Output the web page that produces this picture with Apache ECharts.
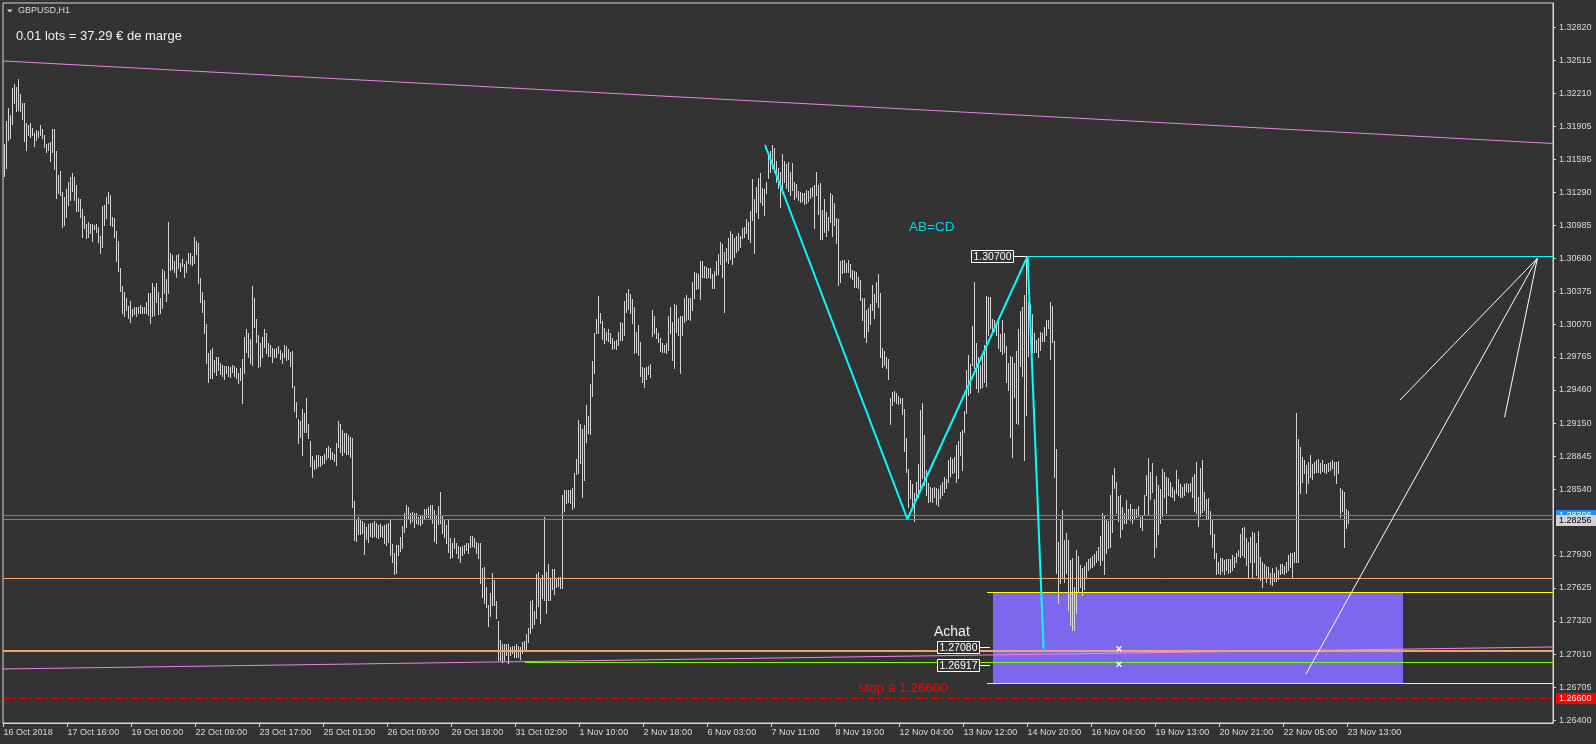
<!DOCTYPE html>
<html><head><meta charset="utf-8">
<script src="https://cdn.jsdelivr.net/npm/echarts@6/dist/echarts.min.js"></script>
<style>html,body{margin:0;padding:0;background:#333333;}#c{width:1596px;height:744px;}</style>
</head><body><div id="c"></div>
<script>
// ---- DATA ----
const barHigh=[1.3174,1.3195,1.3207,1.3201,1.3226,1.3229,1.3227,1.3234,1.3220,1.3212,
1.3212,1.3193,1.3191,1.3193,1.3189,1.3184,1.3187,1.3186,1.3191,1.3188,
1.3182,1.3174,1.3175,1.3176,1.3188,1.3188,1.3167,1.3145,1.3149,1.3129,
1.3125,1.3132,1.3139,1.3143,1.3147,1.3143,1.3136,1.3124,1.3123,1.3114,
1.3107,1.3100,1.3102,1.3100,1.3100,1.3099,1.3100,1.3097,1.3089,1.3116,
1.3117,1.3125,1.3129,1.3127,1.3106,1.3105,1.3093,1.3084,1.3059,1.3042,
1.3037,1.3031,1.3024,1.3028,1.3021,1.3023,1.3023,1.3023,1.3025,1.3023,
1.3023,1.3027,1.3036,1.3036,1.3045,1.3041,1.3045,1.3037,1.3031,1.3058,
1.3056,1.3049,1.3102,1.3073,1.3071,1.3065,1.3071,1.3072,1.3064,1.3067,
1.3063,1.3065,1.3073,1.3073,1.3070,1.3088,1.3084,1.3082,1.3050,1.3037,
1.3029,1.3007,1.2980,1.2983,1.2985,1.2974,1.2976,1.2976,1.2971,1.2969,
1.2968,1.2968,1.2968,1.2967,1.2969,1.2968,1.2966,1.2962,1.2966,1.2975,
1.2995,1.3002,1.2999,1.2993,1.3042,1.3031,1.3012,1.2997,1.2989,1.2995,
1.3002,1.2999,1.2989,1.2988,1.2985,1.2984,1.2985,1.2987,1.2983,1.2980,
1.2988,1.2987,1.2984,1.2981,1.2982,1.2950,1.2935,1.2919,1.2917,1.2928,
1.2925,1.2938,1.2914,1.2899,1.2885,1.2881,1.2886,1.2886,1.2885,1.2885,
1.2887,1.2892,1.2894,1.2892,1.2888,1.2887,1.2897,1.2917,1.2914,1.2909,
1.2906,1.2906,1.2904,1.2902,1.2901,1.2843,1.2825,1.2828,1.2825,1.2824,
1.2823,1.2819,1.2822,1.2823,1.2823,1.2824,1.2823,1.2821,1.2822,1.2820,
1.2821,1.2822,1.2823,1.2825,1.2803,1.2795,1.2802,1.2802,1.2810,1.2820,
1.2832,1.2839,1.2837,1.2832,1.2833,1.2832,1.2832,1.2828,1.2830,1.2829,
1.2836,1.2836,1.2837,1.2839,1.2839,1.2835,1.2829,1.2838,1.2851,1.2830,
1.2826,1.2821,1.2826,1.2809,1.2804,1.2809,1.2804,1.2801,1.2800,1.2801,
1.2802,1.2804,1.2804,1.2811,1.2811,1.2809,1.2805,1.2804,1.2804,1.2781,
1.2782,1.2763,1.2747,1.2758,1.2776,1.2770,1.2750,1.2732,1.2714,1.2710,
1.2710,1.2710,1.2710,1.2708,1.2709,1.2709,1.2710,1.2709,1.2708,1.2712,
1.2713,1.2720,1.2725,1.2750,1.2751,1.2741,1.2775,1.2777,1.2772,1.2774,
1.2828,1.2777,1.2785,1.2772,1.2780,1.2780,1.2772,1.2773,1.2773,1.2849,
1.2853,1.2853,1.2853,1.2853,1.2855,1.2869,1.2882,1.2918,1.2914,1.2910,
1.2913,1.2932,1.2922,1.2951,1.2973,1.2999,1.3012,1.3033,1.3017,1.3010,
1.3003,1.3000,1.3002,1.2999,1.2994,1.2991,1.2992,1.3000,1.3009,1.3008,
1.3028,1.3036,1.3039,1.3035,1.3030,1.3023,1.3000,1.3006,1.2990,1.2967,
1.2966,1.2967,1.2968,1.2970,1.3020,1.3014,1.3003,1.2999,1.2994,1.2989,
1.2988,1.2989,1.3014,1.3023,1.3009,1.3026,1.3025,1.3013,1.3014,1.3014,
1.3031,1.3034,1.3031,1.3031,1.3046,1.3055,1.3054,1.3053,1.3065,1.3065,
1.3061,1.3060,1.3059,1.3059,1.3053,1.3056,1.3065,1.3072,1.3083,1.3081,
1.3074,1.3077,1.3087,1.3093,1.3090,1.3087,1.3089,1.3091,1.3089,1.3096,
1.3097,1.3104,1.3102,1.3112,1.3141,1.3123,1.3134,1.3142,1.3147,1.3133,
1.3132,1.3139,1.3163,1.3167,1.3173,1.3170,1.3158,1.3152,1.3148,1.3165,
1.3158,1.3155,1.3157,1.3148,1.3156,1.3139,1.3137,1.3130,1.3129,1.3128,
1.3128,1.3131,1.3130,1.3133,1.3134,1.3136,1.3148,1.3136,1.3138,1.3113,
1.3123,1.3111,1.3106,1.3128,1.3127,1.3119,1.3105,1.3104,1.3065,1.3066,
1.3066,1.3064,1.3066,1.3063,1.3057,1.3056,1.3055,1.3051,1.3048,1.3031,
1.3031,1.3020,1.3022,1.3026,1.3043,1.3035,1.3046,1.3053,1.3036,1.2985,
1.2982,1.2976,1.2975,1.2938,1.2944,1.2945,1.2943,1.2940,1.2938,1.2938,
1.2928,1.2901,1.2873,1.2862,1.2859,1.2850,1.2861,1.2877,1.2927,1.2934,
1.2904,1.2872,1.2860,1.2856,1.2855,1.2856,1.2855,1.2854,1.2858,1.2861,
1.2865,1.2863,1.2881,1.2884,1.2882,1.2884,1.2895,1.2899,1.2907,1.2909,
1.2926,1.2964,1.2978,1.2970,1.3005,1.3046,1.2989,1.2976,1.2969,1.2976,
1.2988,1.3033,1.3032,1.3032,1.3012,1.3011,1.3008,1.3011,1.2998,1.3011,
1.2999,1.2987,1.2971,1.2977,1.2976,1.2971,1.2982,1.3002,1.3019,1.3023,
1.3034,1.3068,1.3027,1.3025,1.3016,1.2999,1.2992,1.2994,1.3000,1.2999,
1.3004,1.3011,1.3011,1.3027,1.3024,1.2991,1.2891,1.2805,1.2826,1.2835,
1.2807,1.2813,1.2807,1.2788,1.2790,1.2763,1.2798,1.2792,1.2784,1.2781,
1.2783,1.2786,1.2789,1.2790,1.2792,1.2794,1.2797,1.2800,1.2811,1.2832,
1.2829,1.2825,1.2824,1.2849,1.2867,1.2874,1.2861,1.2848,1.2849,1.2837,
1.2832,1.2844,1.2836,1.2840,1.2836,1.2836,1.2836,1.2838,1.2828,1.2829,
1.2849,1.2867,1.2883,1.2870,1.2878,1.2845,1.2866,1.2858,1.2854,1.2873,
1.2870,1.2865,1.2864,1.2861,1.2856,1.2853,1.2872,1.2863,1.2859,1.2856,
1.2859,1.2860,1.2859,1.2860,1.2865,1.2868,1.2879,1.2847,1.2874,1.2881,
1.2851,1.2845,1.2846,1.2834,1.2826,1.2812,1.2795,1.2786,1.2790,1.2790,
1.2788,1.2789,1.2789,1.2789,1.2793,1.2791,1.2795,1.2798,1.2812,1.2818,
1.2819,1.2809,1.2805,1.2810,1.2814,1.2813,1.2804,1.2815,1.2791,1.2786,
1.2785,1.2783,1.2782,1.2776,1.2781,1.2776,1.2782,1.2779,1.2785,1.2785,
1.2783,1.2786,1.2793,1.2795,1.2795,1.2796,1.2925,1.2900,1.2893,1.2884,
1.2881,1.2876,1.2879,1.2886,1.2877,1.2879,1.2881,1.2882,1.2878,1.2881,
1.2877,1.2877,1.2878,1.2879,1.2881,1.2879,1.2879,1.2880,1.2855,1.2853,
1.2851,1.2836,1.2834];
const barLow=[1.3144,1.3152,1.3178,1.3179,1.3192,1.3212,1.3204,1.3205,1.3204,1.3197,
1.3177,1.3168,1.3182,1.3180,1.3182,1.3172,1.3178,1.3180,1.3182,1.3179,
1.3171,1.3166,1.3168,1.3158,1.3166,1.3151,1.3124,1.3128,1.3127,1.3097,
1.3099,1.3106,1.3117,1.3122,1.3130,1.3122,1.3112,1.3112,1.3106,1.3088,
1.3096,1.3087,1.3088,1.3091,1.3084,1.3095,1.3092,1.3083,1.3073,1.3078,
1.3099,1.3105,1.3119,1.3099,1.3098,1.3088,1.3065,1.3056,1.3038,1.3017,
1.3014,1.3020,1.3013,1.3009,1.3014,1.3016,1.3014,1.3017,1.3017,1.3017,
1.3017,1.3017,1.3015,1.3008,1.3014,1.3015,1.3027,1.3016,1.3017,1.3022,
1.3036,1.3028,1.3036,1.3057,1.3058,1.3055,1.3051,1.3059,1.3056,1.3061,
1.3051,1.3055,1.3064,1.3063,1.3062,1.3064,1.3072,1.3045,1.3027,1.3018,
1.2999,1.2971,1.2953,1.2957,1.2957,1.2963,1.2960,1.2964,1.2961,1.2959,
1.2956,1.2962,1.2959,1.2958,1.2963,1.2959,1.2957,1.2952,1.2955,1.2934,
1.2962,1.2981,1.2976,1.2971,1.2969,1.3004,1.2990,1.2967,1.2968,1.2976,
1.2986,1.2980,1.2977,1.2977,1.2972,1.2976,1.2976,1.2980,1.2975,1.2971,
1.2976,1.2974,1.2975,1.2968,1.2949,1.2926,1.2921,1.2897,1.2902,1.2886,
1.2907,1.2907,1.2901,1.2875,1.2865,1.2873,1.2874,1.2875,1.2875,1.2877,
1.2878,1.2882,1.2884,1.2882,1.2882,1.2880,1.2876,1.2893,1.2888,1.2886,
1.2888,1.2887,1.2887,1.2884,1.2837,1.2807,1.2806,1.2812,1.2812,1.2813,
1.2794,1.2808,1.2805,1.2811,1.2810,1.2811,1.2810,1.2809,1.2811,1.2810,
1.2804,1.2802,1.2805,1.2793,1.2786,1.2775,1.2776,1.2793,1.2797,1.2799,
1.2814,1.2819,1.2826,1.2823,1.2824,1.2819,1.2823,1.2822,1.2821,1.2823,
1.2827,1.2828,1.2828,1.2827,1.2823,1.2806,1.2804,1.2822,1.2823,1.2813,
1.2810,1.2804,1.2796,1.2790,1.2791,1.2799,1.2795,1.2790,1.2786,1.2793,
1.2795,1.2798,1.2795,1.2800,1.2801,1.2800,1.2795,1.2790,1.2767,1.2754,
1.2748,1.2745,1.2727,1.2736,1.2747,1.2747,1.2735,1.2696,1.2696,1.2694,
1.2696,1.2700,1.2693,1.2700,1.2702,1.2698,1.2698,1.2698,1.2697,1.2702,
1.2705,1.2705,1.2712,1.2721,1.2725,1.2729,1.2735,1.2746,1.2730,1.2753,
1.2751,1.2739,1.2751,1.2751,1.2761,1.2757,1.2763,1.2764,1.2762,1.2762,
1.2834,1.2841,1.2842,1.2841,1.2836,1.2837,1.2868,1.2869,1.2878,1.2847,
1.2862,1.2898,1.2906,1.2905,1.2940,1.2962,1.2999,1.2999,1.3008,1.2993,
1.2989,1.2992,1.2991,1.2989,1.2984,1.2985,1.2984,1.2988,1.2992,1.2992,
1.2997,1.3018,1.3021,1.3017,1.3008,1.2980,1.2981,1.2978,1.2959,1.2953,
1.2949,1.2956,1.2961,1.2958,1.2996,1.2999,1.2994,1.2990,1.2982,1.2981,
1.2981,1.2980,1.2983,1.2999,1.2974,1.2966,1.3000,1.2997,1.2962,1.2997,
1.3009,1.3011,1.3012,1.3011,1.3020,1.3031,1.3039,1.3040,1.3030,1.3051,
1.3051,1.3050,1.3051,1.3050,1.3040,1.3040,1.3052,1.3053,1.3063,1.3051,
1.3018,1.3065,1.3064,1.3067,1.3063,1.3069,1.3074,1.3076,1.3078,1.3087,
1.3088,1.3091,1.3086,1.3083,1.3103,1.3073,1.3111,1.3105,1.3120,1.3117,
1.3108,1.3128,1.3142,1.3148,1.3152,1.3148,1.3139,1.3133,1.3115,1.3128,
1.3139,1.3133,1.3130,1.3127,1.3131,1.3123,1.3125,1.3122,1.3120,1.3121,
1.3118,1.3119,1.3121,1.3124,1.3126,1.3096,1.3127,1.3109,1.3086,1.3086,
1.3092,1.3089,1.3094,1.3102,1.3089,1.3099,1.3082,1.3043,1.3046,1.3054,
1.3055,1.3055,1.3055,1.3051,1.3049,1.3041,1.3041,1.3040,1.3029,1.3011,
1.2995,1.2990,1.3001,1.3007,1.3020,1.3013,1.3027,1.3023,1.2976,1.2967,
1.2969,1.2966,1.2956,1.2914,1.2932,1.2936,1.2934,1.2933,1.2934,1.2924,
1.2889,1.2870,1.2837,1.2846,1.2839,1.2824,1.2848,1.2847,1.2855,1.2864,
1.2858,1.2849,1.2842,1.2843,1.2842,1.2847,1.2840,1.2838,1.2846,1.2849,
1.2851,1.2855,1.2861,1.2866,1.2869,1.2870,1.2861,1.2864,1.2886,1.2872,
1.2907,1.2925,1.2941,1.2943,1.2969,1.2966,1.2948,1.2944,1.2948,1.2949,
1.2953,1.2950,1.2997,1.3003,1.2999,1.3001,1.2997,1.2985,1.2982,1.2979,
1.2981,1.2953,1.2946,1.2902,1.2884,1.2939,1.2915,1.2914,1.2968,1.2959,
1.2881,1.2923,1.2977,1.3001,1.2981,1.2981,1.2981,1.2976,1.2983,1.2991,
1.2991,1.2997,1.3003,1.2975,1.2990,1.2865,1.2776,1.2748,1.2767,1.2772,
1.2768,1.2776,1.2742,1.2728,1.2723,1.2723,1.2739,1.2759,1.2763,1.2756,
1.2761,1.2773,1.2779,1.2781,1.2782,1.2784,1.2786,1.2788,1.2784,1.2788,
1.2775,1.2795,1.2799,1.2800,1.2814,1.2855,1.2832,1.2824,1.2810,1.2817,
1.2823,1.2823,1.2827,1.2825,1.2823,1.2826,1.2828,1.2829,1.2819,1.2816,
1.2830,1.2849,1.2830,1.2845,1.2851,1.2791,1.2800,1.2812,1.2823,1.2829,
1.2847,1.2832,1.2849,1.2848,1.2847,1.2844,1.2850,1.2849,1.2847,1.2847,
1.2849,1.2852,1.2851,1.2852,1.2847,1.2834,1.2832,1.2820,1.2829,1.2833,
1.2835,1.2827,1.2826,1.2812,1.2800,1.2790,1.2775,1.2776,1.2775,1.2778,
1.2775,1.2779,1.2776,1.2777,1.2779,1.2782,1.2786,1.2792,1.2791,1.2793,
1.2791,1.2784,1.2772,1.2786,1.2773,1.2786,1.2774,1.2773,1.2770,1.2763,
1.2772,1.2768,1.2773,1.2766,1.2765,1.2769,1.2769,1.2771,1.2775,1.2776,
1.2775,1.2777,1.2779,1.2782,1.2772,1.2786,1.2786,1.2786,1.2850,1.2861,
1.2869,1.2850,1.2860,1.2865,1.2863,1.2869,1.2870,1.2870,1.2869,1.2871,
1.2870,1.2869,1.2871,1.2872,1.2874,1.2867,1.2860,1.2869,1.2828,1.2834,
1.2800,1.2818,1.2823];

const xTickIdx=[0,32,64,96,128,160,192,224,256,288,320,352,384,416,448,480,512,544,576,608,640,672];
const xTickLabels=['16 Oct 2018','17 Oct 16:00','19 Oct 00:00','22 Oct 09:00','23 Oct 17:00','25 Oct 01:00','26 Oct 09:00','29 Oct 18:00','31 Oct 02:00','1 Nov 10:00','2 Nov 18:00','6 Nov 03:00','7 Nov 11:00','8 Nov 19:00','12 Nov 04:00','13 Nov 12:00','14 Nov 20:00','16 Nov 04:00','19 Nov 13:00','20 Nov 21:00','22 Nov 05:00','23 Nov 13:00'];
const yTicks=[1.32820,1.32515,1.32210,1.31905,1.31595,1.31290,1.30985,1.30680,1.30375,1.30070,1.29765,1.29460,1.29150,1.28845,1.28540,1.27930,1.27625,1.27320,1.27010,1.26705,1.26400];

const topTrend=[[-0.3,1.32508],[774.7,1.31743]];
const bottomTrend=[[-0.3,1.26873],[774.7,1.27077]];
const abcdPoints=[[380.7,1.31729],[451.9,1.28263],[512,1.30700],[520,1.27058]];
const projA=[[766.9,1.30679],[698.2,1.29366]];
const projB=[[766.9,1.30679],[651.2,1.26826]];
const projC=[[766.9,1.30679],[750.5,1.29206]];
const zoneBox=[494.9,1.27586,699.7,1.26740];
const tradeMarks=[[557.7,1.27060],[557.7,1.26917]];
const levelResist=1.27713, levelEntry=1.27044, levelZoneTop=1.27586, levelZoneBottom=1.26740;
const levelGreen=1.26935, levelStop=1.26600, levelBid=1.28296, levelLast=1.28256, levelC=1.30700;
const startZone=491.7, startGreen=260.7, startC=512;

// ---- CHART ----
const X0=-0.3, X1=774.7;
const FONT="'Liberation Sans', Arial, sans-serif";
const chart=echarts.init(document.getElementById('c'),null,{renderer:'canvas'});

function hSeg(x1,x2,p,color,width,dash,z){
  return {type:'custom',coordinateSystem:'cartesian2d',silent:true,z:z||4,clip:false,
    data:[[x1,p,x2]],
    renderItem:function(params,api){
      const a=api.coord([api.value(0),api.value(1)]);
      const b=api.coord([api.value(2),api.value(1)]);
      const off=(width%2)?0.5:0;
      const y=Math.round(a[1]-off)+off;
      return {type:'line',shape:{x1:Math.round(a[0]),y1:y,x2:Math.round(b[0]),y2:y},
        style:{stroke:color,lineWidth:width,lineDash:dash||null}};
    }};
}
function lineS(points,color,width,z){
  return {type:'line',data:points,symbol:'none',silent:true,z:z||4,animation:false,
    lineStyle:{color:color,width:width},clip:false};
}

const bars=barHigh.map((h,i)=>[i,h,barLow[i]]);

const option={
  backgroundColor:'#333333',
  animation:false,
  grid:{left:3,top:3,width:1550,height:720,show:true,borderColor:'#d8d8d8',borderWidth:1,containLabel:false},
  xAxis:{type:'value',min:X0,max:X1,
    axisLine:{show:true,onZero:false,lineStyle:{color:'#d8d8d8',width:1}},
    axisTick:{show:true,customValues:xTickIdx,length:4,lineStyle:{color:'#d8d8d8'}},
    axisLabel:{show:true,customValues:xTickIdx,align:'left',margin:5,color:'#dcdcdc',fontSize:9,fontFamily:FONT,
      formatter:function(v){const k=xTickIdx.indexOf(Math.round(v));return k>=0?xTickLabels[k]:'';}},
    splitLine:{show:false}},
  yAxis:{type:'value',position:'right',min:1.263724,max:1.330452,scale:true,
    axisLine:{show:true,onZero:false,lineStyle:{color:'#d8d8d8',width:1}},
    axisTick:{show:true,customValues:yTicks,length:3,lineStyle:{color:'#d8d8d8'}},
    axisLabel:{show:true,customValues:yTicks,margin:6,color:'#dcdcdc',fontSize:9,fontFamily:FONT,
      formatter:function(v){return v.toFixed(5);}},
    splitLine:{show:false}},
  series:[
    {type:'custom',coordinateSystem:'cartesian2d',silent:true,z:1,data:[zoneBox],
      renderItem:function(params,api){
        const a=api.coord([api.value(0),api.value(1)]);
        const b=api.coord([api.value(2),api.value(3)]);
        const x=Math.round(a[0]),y=Math.round(a[1]);
        return {type:'rect',shape:{x:x,y:y,width:Math.round(b[0])-x,height:Math.round(b[1])-y},style:{fill:'#7b68ee'}};
      }},
    {type:'custom',coordinateSystem:'cartesian2d',silent:true,z:2,data:bars,
      renderItem:function(params,api){
        const t=api.coord([api.value(0),api.value(1)]);
        const l=api.coord([api.value(0),api.value(2)]);
        const x=Math.round(t[0])+0.5;
        return {type:'line',shape:{x1:x,y1:Math.round(t[1]),x2:x,y2:Math.round(l[1])+1},style:{stroke:'#d6d6d6',lineWidth:1}};
      }},
    lineS(topTrend,'#ee82ee',1,3),
    lineS(bottomTrend,'#ee82ee',1,3),
    hSeg(X0,X1,levelResist,'#f4a460',1,null,4),
    hSeg(startZone,X1,levelZoneTop,'#ffff00',1,null,4),
    hSeg(startZone,X1,levelZoneBottom,'#ffff00',1,null,4),
    hSeg(startGreen,X1,levelGreen,'#7cfc00',1,null,4),
    hSeg(X0,X1,levelEntry,'#f4a460',2,null,5),
    hSeg(X0,X1,levelStop,'#ff0000',1,[8,3,2,3],4),
    hSeg(X0,X1,levelBid,'#1e90ff',1,null,4),
    hSeg(X0,X1,levelLast,'#808080',1,null,4),
    hSeg(startC,X1,levelC,'#00ffff',1,null,6),
    lineS(abcdPoints,'#00ffff',2,7),
    lineS(projA,'#ffffff',1,6),
    lineS(projB,'#ffffff',1,6),
    lineS(projC,'#ffffff',1,6),
    {type:'custom',coordinateSystem:'cartesian2d',silent:true,z:8,data:tradeMarks,
      renderItem:function(params,api){
        const c=api.coord([api.value(0),api.value(1)]);
        const s=2.5;
        return {type:'group',children:[
          {type:'line',shape:{x1:c[0]-s,y1:c[1]-s,x2:c[0]+s,y2:c[1]+s},style:{stroke:'#ffffff',lineWidth:1.5}},
          {type:'line',shape:{x1:c[0]-s,y1:c[1]+s,x2:c[0]+s,y2:c[1]-s},style:{stroke:'#ffffff',lineWidth:1.5}}]};
      }}
  ]
};
chart.setOption(option);

function yPix(p){return chart.convertToPixel({yAxisIndex:0},p);}
function txt(x,y,text,color,size,align){
  return {type:'text',z:50,style:{x:x,y:y,text:text,fill:color,font:size+'px '+FONT,align:align||'left',verticalAlign:'middle'}};
}
function tag(p,bg,fg,text,z){
  const y=Math.round(yPix(p));
  return [{type:'rect',z:z,shape:{x:1556,y:y-5,width:40,height:11},style:{fill:bg}},
    {type:'text',z:z+1,style:{x:1559,y:y+0.5,text:text,fill:fg,font:'9px '+FONT,align:'left',verticalAlign:'middle'}}];
}
function priceBox(x,y,text){
  return [{type:'rect',z:50,shape:{x:x+0.5,y:y+0.5,width:42,height:12},style:{fill:'#333333',stroke:'#ffffff',lineWidth:1}},
    {type:'text',z:51,style:{x:x+21.5,y:y+7,text:text,fill:'#ffffff',font:'10.5px '+FONT,align:'center',verticalAlign:'middle'}}];
}
const g=[].concat(
  [{type:'polygon',z:50,shape:{points:[[7,9.5],[12.5,9.5],[9.75,12.5]]},style:{fill:'#dcdcdc'}},
   txt(18,11,'GBPUSD,H1','#dcdcdc',9),
   txt(16,36,'0.01 lots = 37.29 € de marge','#f0f0f0',13),
   txt(909,227.5,'AB=CD','#00d8e8',13.5),
   txt(934,632,'Achat','#f0f0f0',14),
   txt(948,688,'stop à 1.26600','#ff0000',13.5,'right'),
   {type:'line',z:50,shape:{x1:1013.5,y1:256.5,x2:1027,y2:256.5},style:{stroke:'#ffffff',lineWidth:1}},
   {type:'line',z:50,shape:{x1:979.5,y1:647.5,x2:990,y2:647.5},style:{stroke:'#ffffff',lineWidth:1}},
   {type:'line',z:50,shape:{x1:979.5,y1:665.5,x2:990,y2:665.5},style:{stroke:'#ffffff',lineWidth:1}}],
  priceBox(971,250,'1.30700'),
  priceBox(937,641,'1.27080'),
  priceBox(937,659,'1.26917'),
  tag(levelBid,'#1e90ff','#ffffff','1.28306',60),
  tag(levelLast,'#d3d3d3','#000000','1.28256',70),
  tag(levelStop,'#ff0000','#ffffff','1.26600',60)
);
chart.setOption({graphic:g});
</script></body></html>
